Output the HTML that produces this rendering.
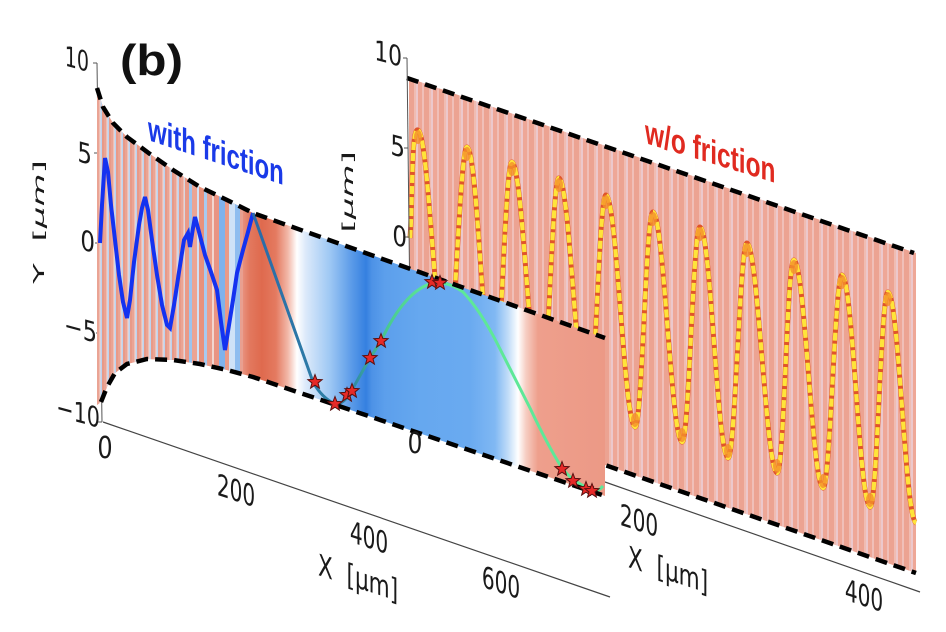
<!DOCTYPE html>
<html><head><meta charset="utf-8"><style>
html,body{margin:0;padding:0;background:#fff;}
svg{display:block;}
</style></head><body>
<svg width="946" height="632" viewBox="0 0 946 632" xmlns="http://www.w3.org/2000/svg">
<defs>
<pattern id="rstr" patternUnits="userSpaceOnUse" x="409" y="0" width="15" height="632">
 <rect x="0" y="0" width="15" height="632" fill="#eeab9c"/>
 <rect x="0" y="0" width="5" height="632" fill="#eca392"/>
 <rect x="5" y="0" width="2" height="632" fill="#f0bcb2"/>
 <rect x="7" y="0" width="2" height="632" fill="#ecc8cc"/>
 <rect x="9" y="0" width="4" height="632" fill="#eea797"/>
 <rect x="13" y="0" width="2" height="632" fill="#f0bfb8"/>
</pattern>
<pattern id="lstr" patternUnits="userSpaceOnUse" x="97" y="0" width="7" height="632">
 <rect x="0" y="0" width="7" height="632" fill="#eaa494"/>
 <rect x="2.5" y="0" width="1" height="632" fill="#f5d8d2"/>
 <rect x="3.5" y="0" width="1.5" height="632" fill="#bcd3ef"/>
 <rect x="5" y="0" width="2" height="632" fill="#e89a88"/>
</pattern>
<linearGradient id="lgrad" gradientUnits="userSpaceOnUse" x1="243" y1="0" x2="605" y2="0">
 <stop offset="0" stop-color="#e8907c"/>
 <stop offset="0.019" stop-color="#e2785e"/>
 <stop offset="0.052" stop-color="#df6a4e"/>
 <stop offset="0.091" stop-color="#e47a60"/>
 <stop offset="0.124" stop-color="#f2b8a8"/>
 <stop offset="0.149" stop-color="#ffffff"/>
 <stop offset="0.174" stop-color="#dbe9fa"/>
 <stop offset="0.240" stop-color="#9ec8f4"/>
 <stop offset="0.301" stop-color="#5a9ae8"/>
 <stop offset="0.340" stop-color="#3580e0"/>
 <stop offset="0.356" stop-color="#4d92e6"/>
 <stop offset="0.392" stop-color="#5c9fec"/>
 <stop offset="0.489" stop-color="#66a8ef"/>
 <stop offset="0.627" stop-color="#6aaaf0"/>
 <stop offset="0.696" stop-color="#80b8f3"/>
 <stop offset="0.732" stop-color="#c0dcf8"/>
 <stop offset="0.760" stop-color="#ffffff"/>
 <stop offset="0.782" stop-color="#f6cdc2"/>
 <stop offset="0.815" stop-color="#ee9f8c"/>
 <stop offset="1" stop-color="#ec9986"/>
</linearGradient>
<linearGradient id="cgrad" gradientUnits="userSpaceOnUse" x1="253" y1="0" x2="603" y2="0">
 <stop offset="0" stop-color="#2a6aa8"/>
 <stop offset="0.28" stop-color="#2e86a6"/>
 <stop offset="0.38" stop-color="#48c890"/>
 <stop offset="0.5" stop-color="#5ee898"/>
 <stop offset="1" stop-color="#5ee898"/>
</linearGradient>
<clipPath id="lclip"><path d="M97,88 L103,107 L113,123 L127,137 L150,154 L173,170 L200,187 L227,200 L253,213 L605,338 L605,496 L330,403 L253,377 L227,370 L200,364 L173,360 L147,359 L127,364 L115,373 L107,387 L101,402 L97,405 Z"/></clipPath>
<path id="star" d="M0,-7.5 L1.88,-2.59 L7.13,-2.32 L3.04,0.99 L4.41,6.07 L0,3.2 L-4.41,6.07 L-3.04,0.99 L-7.13,-2.32 L-1.88,-2.59 Z" fill="#e62a28" stroke="#5a1010" stroke-width="1"/>
</defs>

<!-- ===== RIGHT PANEL ===== -->
<path d="M409,78 L916,253 L916,573 L409,397 Z" fill="url(#rstr)"/>
<g fill="none" stroke-linecap="butt" stroke-linejoin="round">
<path d="M410,238 C413,200 411,127 418,130 C429,134 436,359 447,363 C454,366 460,145 467,147 C478,151 483,375 494,379 C501,381 505,160 512,162 C523,166 530,391 541,395 C548,398 552,176 559,178 C570,182 577,407 588,411 C595,414 599,193 606,195 C617,199 624,423 635,427 C642,430 646,210 653,212 C664,216 671,438 682,442 C689,445 693,225 700,227 C711,231 717,454 728,458 C735,461 740,241 747,243 C758,247 766,469 777,473 C784,476 787,258 794,260 C805,264 812,484 823,488 C830,491 835,273 842,275 C853,279 859,503 870,507 C877,510 881,290 888,292 C899,296 905,519 916,523" stroke="#e0552a" stroke-width="5"/>
<path d="M410,238 C413,200 411,127 418,130 C429,134 436,359 447,363 C454,366 460,145 467,147 C478,151 483,375 494,379 C501,381 505,160 512,162 C523,166 530,391 541,395 C548,398 552,176 559,178 C570,182 577,407 588,411 C595,414 599,193 606,195 C617,199 624,423 635,427 C642,430 646,210 653,212 C664,216 671,438 682,442 C689,445 693,225 700,227 C711,231 717,454 728,458 C735,461 740,241 747,243 C758,247 766,469 777,473 C784,476 787,258 794,260 C805,264 812,484 823,488 C830,491 835,273 842,275 C853,279 859,503 870,507 C877,510 881,290 888,292 C899,296 905,519 916,523" stroke="#ffe43a" stroke-width="4.2" stroke-dasharray="8 3"/>
</g>
<g fill="#f5902a" opacity="0.8">
 <ellipse cx="418" cy="137" rx="4" ry="7"/><ellipse cx="467" cy="154" rx="4" ry="7"/><ellipse cx="512" cy="169" rx="4" ry="7"/><ellipse cx="559" cy="185" rx="4" ry="7"/><ellipse cx="606" cy="202" rx="4" ry="7"/><ellipse cx="653" cy="219" rx="4" ry="7"/><ellipse cx="700" cy="234" rx="4" ry="7"/><ellipse cx="747" cy="250" rx="4" ry="7"/><ellipse cx="794" cy="267" rx="4" ry="7"/><ellipse cx="842" cy="282" rx="4" ry="7"/><ellipse cx="888" cy="299" rx="4" ry="7"/>
 <ellipse cx="635" cy="420" rx="4" ry="7"/><ellipse cx="682" cy="435" rx="4" ry="7"/><ellipse cx="728" cy="451" rx="4" ry="7"/><ellipse cx="777" cy="466" rx="4" ry="7"/><ellipse cx="823" cy="481" rx="4" ry="7"/><ellipse cx="870" cy="500" rx="4" ry="7"/>
</g>
<path d="M407,78 L914,253" stroke="#000" stroke-width="4.5" stroke-dasharray="12 7" fill="none"/>
<path d="M409,397 L916,573" stroke="#000" stroke-width="4.5" stroke-dasharray="12 7" fill="none"/>
<path d="M407,58 L411,400" stroke="#555" stroke-width="1"/>
<path d="M403,58 L407,58 M404,148 L408,148 M405,237 L409,237" stroke="#555" stroke-width="1"/>
<path d="M605,482 L920,592" stroke="#444" stroke-width="1.2"/>
<g font-family="DejaVu Sans, Liberation Sans, sans-serif" fill="#1a1a1a">
 <text transform="translate(402,67) skewY(15) scale(0.78,1)" font-size="28" text-anchor="end">10</text>
 <text transform="translate(405,158) skewY(15) scale(0.82,1)" font-size="28" text-anchor="end">5</text>
 <text transform="translate(407,248) skewY(15) scale(0.82,1)" font-size="28" text-anchor="end">0</text>
 <text transform="translate(353,213) rotate(-90) scale(1,0.45)" font-size="34" text-anchor="middle">Y&#160;&#160;[<tspan font-style="italic">μm</tspan>]</text>
 <text transform="translate(639,531) skewY(18) scale(0.67,1)" font-size="30" text-anchor="middle">200</text>
 <text transform="translate(864,606) skewY(18) scale(0.67,1)" font-size="30" text-anchor="middle">400</text>
 <text transform="translate(628,567) skewY(18) scale(0.72,1)" font-size="30">X&#160;&#160;[μm]</text>
</g>

<!-- ===== LEFT PANEL ===== -->
<path d="M103,422 L610,597" stroke="#444" stroke-width="1.2"/>
<path d="M97,63 L102,422" stroke="#555" stroke-width="1"/>
<path d="M93,63 L97,63 M94,153 L98,153 M95,243 L99,243 M96,333 L100,333 M98,422 L102,422" stroke="#555" stroke-width="1"/>

<path d="M97,88 L103,107 L113,123 L127,137 L150,154 L173,170 L200,187 L227,200 L253,213 L605,338 L605,496 L330,403 L253,377 L227,370 L200,364 L173,360 L147,359 L127,364 L115,373 L107,387 L101,402 L97,405 Z" fill="url(#lgrad)"/>
<g clip-path="url(#lclip)">
 <rect x="97" y="80" width="88" height="340" fill="url(#lstr)"/>
 <rect x="185" y="80" width="4" height="340" fill="#e99a88"/>
 <rect x="189" y="80" width="3" height="340" fill="#9cc4ee"/>
 <rect x="192" y="80" width="5" height="340" fill="#eca493"/>
 <rect x="197" y="80" width="2" height="340" fill="#d2e2f6"/>
 <rect x="199" y="80" width="5" height="340" fill="#e8917c"/>
 <rect x="204" y="80" width="3" height="340" fill="#a8caf0"/>
 <rect x="207" y="80" width="5" height="340" fill="#eb9e8c"/>
 <rect x="212" y="80" width="2" height="340" fill="#f2d6d0"/>
 <rect x="214" y="80" width="5" height="340" fill="#e99483"/>
 <rect x="219" y="80" width="6" height="340" fill="#7fb2ec"/>
 <rect x="225" y="80" width="4" height="340" fill="#ea9a88"/>
 <rect x="229" y="80" width="6" height="340" fill="#cfe2f7"/>
 <rect x="235" y="80" width="5" height="340" fill="#8fbdef"/>
 <rect x="240" y="80" width="3" height="340" fill="#e9a090"/>
</g>

<path d="M100,243 L102,205 L105,158 L108,172 L111,205 L115,240 L119,275 L123,302 L127,318 L130,300 L134,262 L139,225 L142,208 L145,197 L148,210 L152,240 L157,275 L162,305 L167,325 L170,328 L174,305 L179,272 L184,240 L188,233 L190,247 L193,228 L195,217 L199,232 L205,255 L211,272 L217,290 L221,322 L225,350 L229,325 L233,300 L237,273 L243,250 L248,232 L253,213" fill="none" stroke="#1432f0" stroke-width="4" stroke-linejoin="miter"/>
<path d="M253,213 L313,382 Q322,398 335,404 Q343,404 348,396 L352,390 Q362,372 370,358 L381,341 Q405,290 433,283 Q448,281 463,292 Q480,310 497,343 L530,408 Q548,446 562,468 Q570,478 577,482 L592,491 Q598,492 603,486" fill="none" stroke="url(#cgrad)" stroke-width="3" stroke-linejoin="round"/>

<path d="M97,88 L103,107 L113,123 L127,137 L150,154 L173,170 L200,187 L227,200 L253,213 L605,338" fill="none" stroke="#000" stroke-width="4.5" stroke-dasharray="12 7"/>
<path d="M101,402 L107,387 L115,373 L127,364 L147,359 L173,360 L200,364 L227,370 L253,377 L330,403 L605,496" fill="none" stroke="#000" stroke-width="4.5" stroke-dasharray="12 7"/>

<use href="#star" x="315" y="382"/>
<use href="#star" x="335" y="404"/>
<use href="#star" x="347" y="395"/>
<use href="#star" x="352" y="391"/>
<use href="#star" x="370" y="358"/>
<use href="#star" x="381" y="341"/>
<use href="#star" x="432" y="282"/>
<use href="#star" x="440" y="283"/>
<use href="#star" x="562" y="469"/>
<use href="#star" x="573" y="481"/>
<use href="#star" x="586" y="489"/>
<use href="#star" x="592" y="491"/>

<g font-family="DejaVu Sans, Liberation Sans, sans-serif" fill="#1a1a1a">
 <text transform="translate(89,72) skewY(15) scale(0.68,1)" font-size="28" text-anchor="end">10</text>
 <text transform="translate(92,165) skewY(15) scale(0.82,1)" font-size="28" text-anchor="end">5</text>
 <text transform="translate(95,253) skewY(15) scale(0.82,1)" font-size="28" text-anchor="end">0</text>
 <text transform="translate(97,343) skewY(15) scale(0.8,1)" font-size="28" text-anchor="end">−5</text>
 <text transform="translate(100,428) skewY(15) scale(0.74,1)" font-size="28" text-anchor="end">−10</text>
 <text transform="translate(44,222) rotate(-90) scale(1,0.45)" font-size="34" text-anchor="middle">Y&#160;&#160;[<tspan font-style="italic">μm</tspan>]</text>
 <text transform="translate(105,458) scale(0.8,1)" font-size="30" text-anchor="middle">0</text>
 <text transform="translate(236,501) skewY(18) scale(0.67,1)" font-size="30" text-anchor="middle">200</text>
 <text transform="translate(369,548) skewY(18) scale(0.67,1)" font-size="30" text-anchor="middle">400</text>
 <text transform="translate(501,593) skewY(18) scale(0.67,1)" font-size="30" text-anchor="middle">600</text>
 <text transform="translate(318,575) skewY(18) scale(0.72,1)" font-size="30">X&#160;&#160;[μm]</text>
 <text transform="translate(415,453) scale(0.8,1)" font-size="29" text-anchor="middle">0</text>
</g>

<g font-family="Liberation Sans, Arial, sans-serif" font-weight="bold">
 <text x="120" y="75" font-size="44" fill="#111" textLength="63" lengthAdjust="spacingAndGlyphs">(b)</text>
 <text transform="translate(148,140) skewY(18.4) scale(0.705,1)" font-size="34" fill="#1a3ae8">with friction</text>
 <text transform="translate(645,143) skewY(17) scale(0.72,1)" font-size="34" fill="#e02a20">w/o friction</text>
</g>
</svg>
</body></html>
